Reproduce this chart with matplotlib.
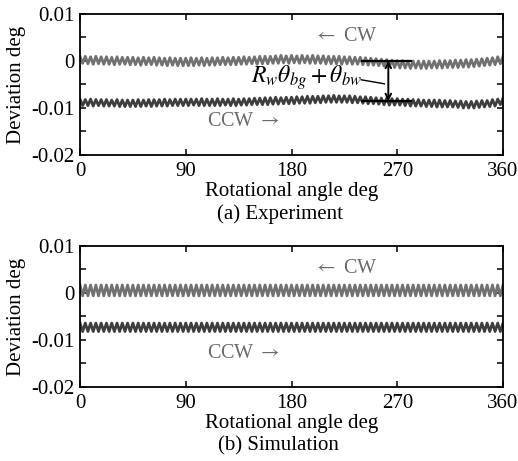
import numpy as np
import matplotlib
matplotlib.use("Agg")
import matplotlib.pyplot as plt

plt.rcParams['font.family'] = ['Liberation Serif', 'DejaVu Serif']
plt.rcParams['mathtext.fontset'] = 'stix'

# ---------------- data (deviation extrema in units of 1e-4 deg) ----------------
UNIT = 1e-4
exp_cw = [
    10, -5, 10, -6, 9, -7, 10, -6, 9, -7,
    9, -7, 8, -8, 9, -7, 8, -7, 8, -8,
    8, -8, 7, -9, 8, -8, 7, -8, 8, -9,
    7, -9, 6, -10, 7, -9, 6, -10, 6, -10,
    6, -10, 7, -10, 6, -9, 7, -10, 6, -9,
    7, -9, 7, -8, 8, -8, 7, -8, 8, -8,
    8, -7, 9, -7, 8, -6, 9, -7, 10, -6,
    10, -6, 10, -5, 11, -5, 12, -4, 11, -5,
    12, -4, 11, -5, 12, -4, 11, -5, 12, -5,
    11, -5, 11, -6, 10, -6, 10, -6, 10, -7,
    9, -6, 9, -7, 8, -7, 8, -8, 7, -9,
    6, -9, 5, -10, 4, -11, 3, -12, 2, -14,
    1, -15, 1, -15, 0, -16, 0, -15, 0, -16,
    0, -16, 0, -15, 0, -15, 1, -15, 1, -14,
    1, -14, 2, -14, 2, -13, 3, -13, 3, -12,
    4, -11, 5, -10, 6, -9, 7, -8, 9, -6, 10,
]
exp_ccw = [
    -81, -95, -82, -95, -81, -96, -82, -95, -82, -96,
    -82, -96, -83, -96, -82, -97, -83, -97, -83, -97,
    -83, -97, -82, -97, -83, -96, -82, -97, -82, -96,
    -82, -96, -81, -96, -82, -95, -81, -95, -81, -95,
    -81, -95, -81, -94, -81, -95, -80, -95, -81, -95,
    -81, -95, -80, -95, -81, -94, -81, -95, -80, -95,
    -81, -94, -80, -94, -80, -93, -79, -93, -79, -93,
    -78, -93, -78, -92, -77, -92, -78, -91, -77, -91,
    -77, -91, -76, -90, -76, -90, -75, -90, -75, -89,
    -75, -89, -74, -88, -74, -88, -73, -88, -74, -88,
    -74, -88, -74, -89, -75, -89, -76, -90, -76, -91,
    -77, -91, -78, -92, -79, -93, -79, -94, -80, -94,
    -80, -94, -81, -95, -81, -96, -82, -96, -82, -96,
    -83, -97, -83, -97, -83, -98, -83, -98, -84, -98,
    -84, -98, -85, -99, -85, -100, -86, -100, -86, -100,
    -85, -99, -84, -98, -84, -97, -82, -96, -81, -93, -79,
]
sim_cw = [17, -6] * 80 + [17]
sim_ccw = [-64, -82] * 80 + [-64]

angle_ticks = [0, 90, 180, 270, 360]
dev_ticks = [-0.02, -0.015, -0.01, -0.005, 0, 0.005, 0.01]
dev_labels = ['-0.02', '', '-0.01', '', '0', '', '0.01']
captions = ['(a) Experiment', '(b) Simulation']

CW_COLOR = '#717171'
CCW_COLOR = '#3e3e3e'
TXT_GRAY = '#6a6a6a'

W, H = 518, 461
fig = plt.figure(figsize=(W / 100, H / 100), dpi=100)

def px_axes(l, t, r, b):
    return fig.add_axes([l / W, 1 - b / H, (r - l) / W, (b - t) / H])

ax1 = px_axes(80, 14, 503, 155)
ax2 = px_axes(80, 246, 503, 387)

for ax, cw, ccw in [(ax1, exp_cw, exp_ccw), (ax2, sim_cw, sim_ccw)]:
    x_cw = np.linspace(0, 360, len(cw))
    x_ccw = np.linspace(0, 360, len(ccw))
    ax.plot(x_cw, np.array(cw) * UNIT, color=CW_COLOR, lw=2.0, solid_joinstyle='round')
    ax.plot(x_ccw, np.array(ccw) * UNIT, color=CCW_COLOR, lw=2.0, solid_joinstyle='round')
    ax.set_xlim(0, 360)
    ax.set_ylim(-0.02, 0.01)
    ax.set_xticks(angle_ticks)
    ax.set_xticklabels([str(t) for t in angle_ticks])
    ax.set_yticks(dev_ticks)
    ax.set_yticklabels(dev_labels)
    ax.tick_params(direction='in', length=4, width=1.1, top=True, right=True,
                   labelsize=15)
    ax.tick_params(axis='x', pad=5)
    ax.tick_params(axis='y', pad=4)
    for s in ax.spines.values():
        s.set_linewidth(1.3)
    ax.set_xlabel('Rotational angle deg', fontsize=15, labelpad=1)
    ax.set_ylabel('Deviation deg', fontsize=15)
    ax.yaxis.set_label_coords(-0.128, 0.5)
    ax.text(226.7, 0.0052, r'$\leftarrow$ CW', color=TXT_GRAY, fontsize=14.5,
            ha='center', va='center')
    ax.text(139.2, -0.0128, r'CCW $\rightarrow$', color=TXT_GRAY, fontsize=14.5,
            ha='center', va='center')

fig.text(280 / W, 1 - 214 / H, captions[0], fontsize=15, ha='center', va='center')
fig.text(278 / W, 1 - 446 / H, captions[1], fontsize=15, ha='center', va='center')

# annotation on experiment panel
ARROW_X = 262.4
TOP_Y, BOT_Y = 0.0001, -0.0086
ax1.plot([240, 282], [TOP_Y, TOP_Y], color='black', lw=1.6)
ax1.plot([240, 282], [BOT_Y, BOT_Y], color='black', lw=1.6)
ax1.annotate('', xy=(ARROW_X, BOT_Y), xytext=(ARROW_X, TOP_Y),
             arrowprops=dict(arrowstyle='<->', lw=1.4, color='black',
                             shrinkA=0, shrinkB=0, mutation_scale=10))
ax1.plot([239.4, 259], [-0.0040, -0.00485], color='black', lw=1.0)
ax1.text(192.7, -0.0036, r'$R_w\theta_{bg}+\theta_{bw}$', fontsize=17,
         ha='center', va='center')

fig.savefig('out.png', dpi=100)
